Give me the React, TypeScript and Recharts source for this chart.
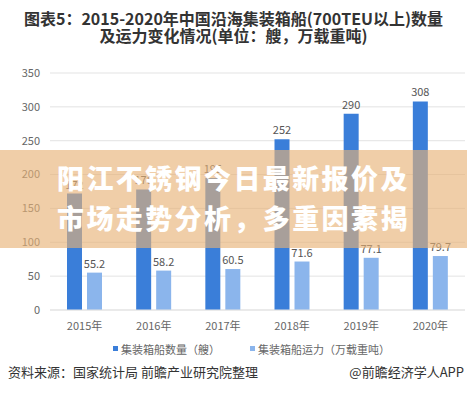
import React from 'react';
import { BarChart, Bar, XAxis, YAxis, CartesianGrid, LabelList } from 'recharts';

const years = ['2015年', '2016年', '2017年', '2018年', '2019年', '2020年'];
const shipCount = [172, 178, 195, 252, 290, 308];
const shipCapacity = [55.2, 58.2, 60.5, 71.6, 77.1, 79.7];
const yTicks = [0, 50, 100, 150, 200, 250, 300, 350];

const countColor = '#3a7ed9';
const capacityColor = '#8bb5ec';

const data = years.map((year, i) => ({
    year,
    count: shipCount[i],
    capacity: shipCapacity[i],
}));

const cjk = '"Noto Sans CJK SC", "Noto Sans", sans-serif';

const LegendItem = ({ color, label }: { color: string; label: string }) => (
    <span style={{ display: 'inline-flex', alignItems: 'center', marginRight: 30 }}>
        <span style={{ width: 5, height: 5, background: color, marginRight: 3, display: 'inline-block' }} />
        {label}
    </span>
);

export default function App() {
    return (
        <div style={{ position: 'fixed', left: 0, top: 0, width: 467, height: 399, background: '#fff', fontFamily: cjk, overflow: 'hidden' }}>
            <div style={{ position: 'absolute', top: 10, left: 0, width: 467, textAlign: 'center', fontSize: 16, fontWeight: 700, lineHeight: '17px', color: '#333' }}>
                <div>图表5：2015-2020年中国沿海集装箱船(700TEU以上)数量</div>
                <div>及运力变化情况(单位：艘，万载重吨)</div>
            </div>

            <div style={{ position: 'absolute', top: 60, left: 0 }}>
                <BarChart
                    width={467}
                    height={300}
                    data={data}
                    margin={{ top: 13, right: 2, left: 0, bottom: 20 }}
                    barSize={15}
                    barGap={5}
                >
                    <CartesianGrid vertical={false} stroke="#e3e3e3" />
                    <XAxis
                        dataKey="year"
                        height={30}
                        axisLine={{ stroke: '#e3e3e3' }}
                        tickLine={false}
                        tick={{ fontSize: 11, fill: '#666' }}
                        tickMargin={6}
                    />
                    <YAxis
                        width={50}
                        domain={[0, 350]}
                        ticks={yTicks}
                        axisLine={false}
                        tickLine={false}
                        tickSize={0}
                        tickMargin={10}
                        tick={{ fontSize: 11, fill: '#666' }}
                    />
                    <Bar dataKey="count" name="集装箱船数量（艘）" fill={countColor} isAnimationActive={false}>
                        <LabelList dataKey="count" position="top" style={{ fontSize: 11, fill: '#555' }} />
                    </Bar>
                    <Bar dataKey="capacity" name="集装箱船运力（万载重吨）" fill={capacityColor} isAnimationActive={false}>
                        <LabelList dataKey="capacity" position="top" style={{ fontSize: 11, fill: '#555' }} />
                    </Bar>
                </BarChart>
            </div>

            {/* legend */}
            <div style={{ position: 'absolute', top: 338, left: 113, fontSize: 11, color: '#666', whiteSpace: 'nowrap', lineHeight: '16px' }}>
                <LegendItem color={countColor} label="集装箱船数量（艘）" />
                <LegendItem color={capacityColor} label="集装箱船运力（万载重吨）" />
            </div>

            {/* overlay banner */}
            <div style={{ position: 'absolute', top: 150, left: 0, width: 467, height: 98, background: 'rgba(231,178,118,0.635)' }} />
            <div style={{ position: 'absolute', top: 158, left: 57, color: '#fff', fontSize: 27, fontWeight: 900, letterSpacing: 2.4, lineHeight: '40px', whiteSpace: 'nowrap' }}>
                <div>阳江不锈钢今日最新报价及</div>
                <div>市场走势分析，多重因素揭</div>
            </div>

            <div style={{ position: 'absolute', top: 362, left: 8, fontSize: 13, color: '#333', whiteSpace: 'nowrap' }}>
                资料来源：国家统计局 前瞻产业研究院整理
            </div>
            <div style={{ position: 'absolute', top: 362, right: 3, fontSize: 13, color: '#333', whiteSpace: 'nowrap' }}>
                @前瞻经济学人APP
            </div>
        </div>
    );
}
